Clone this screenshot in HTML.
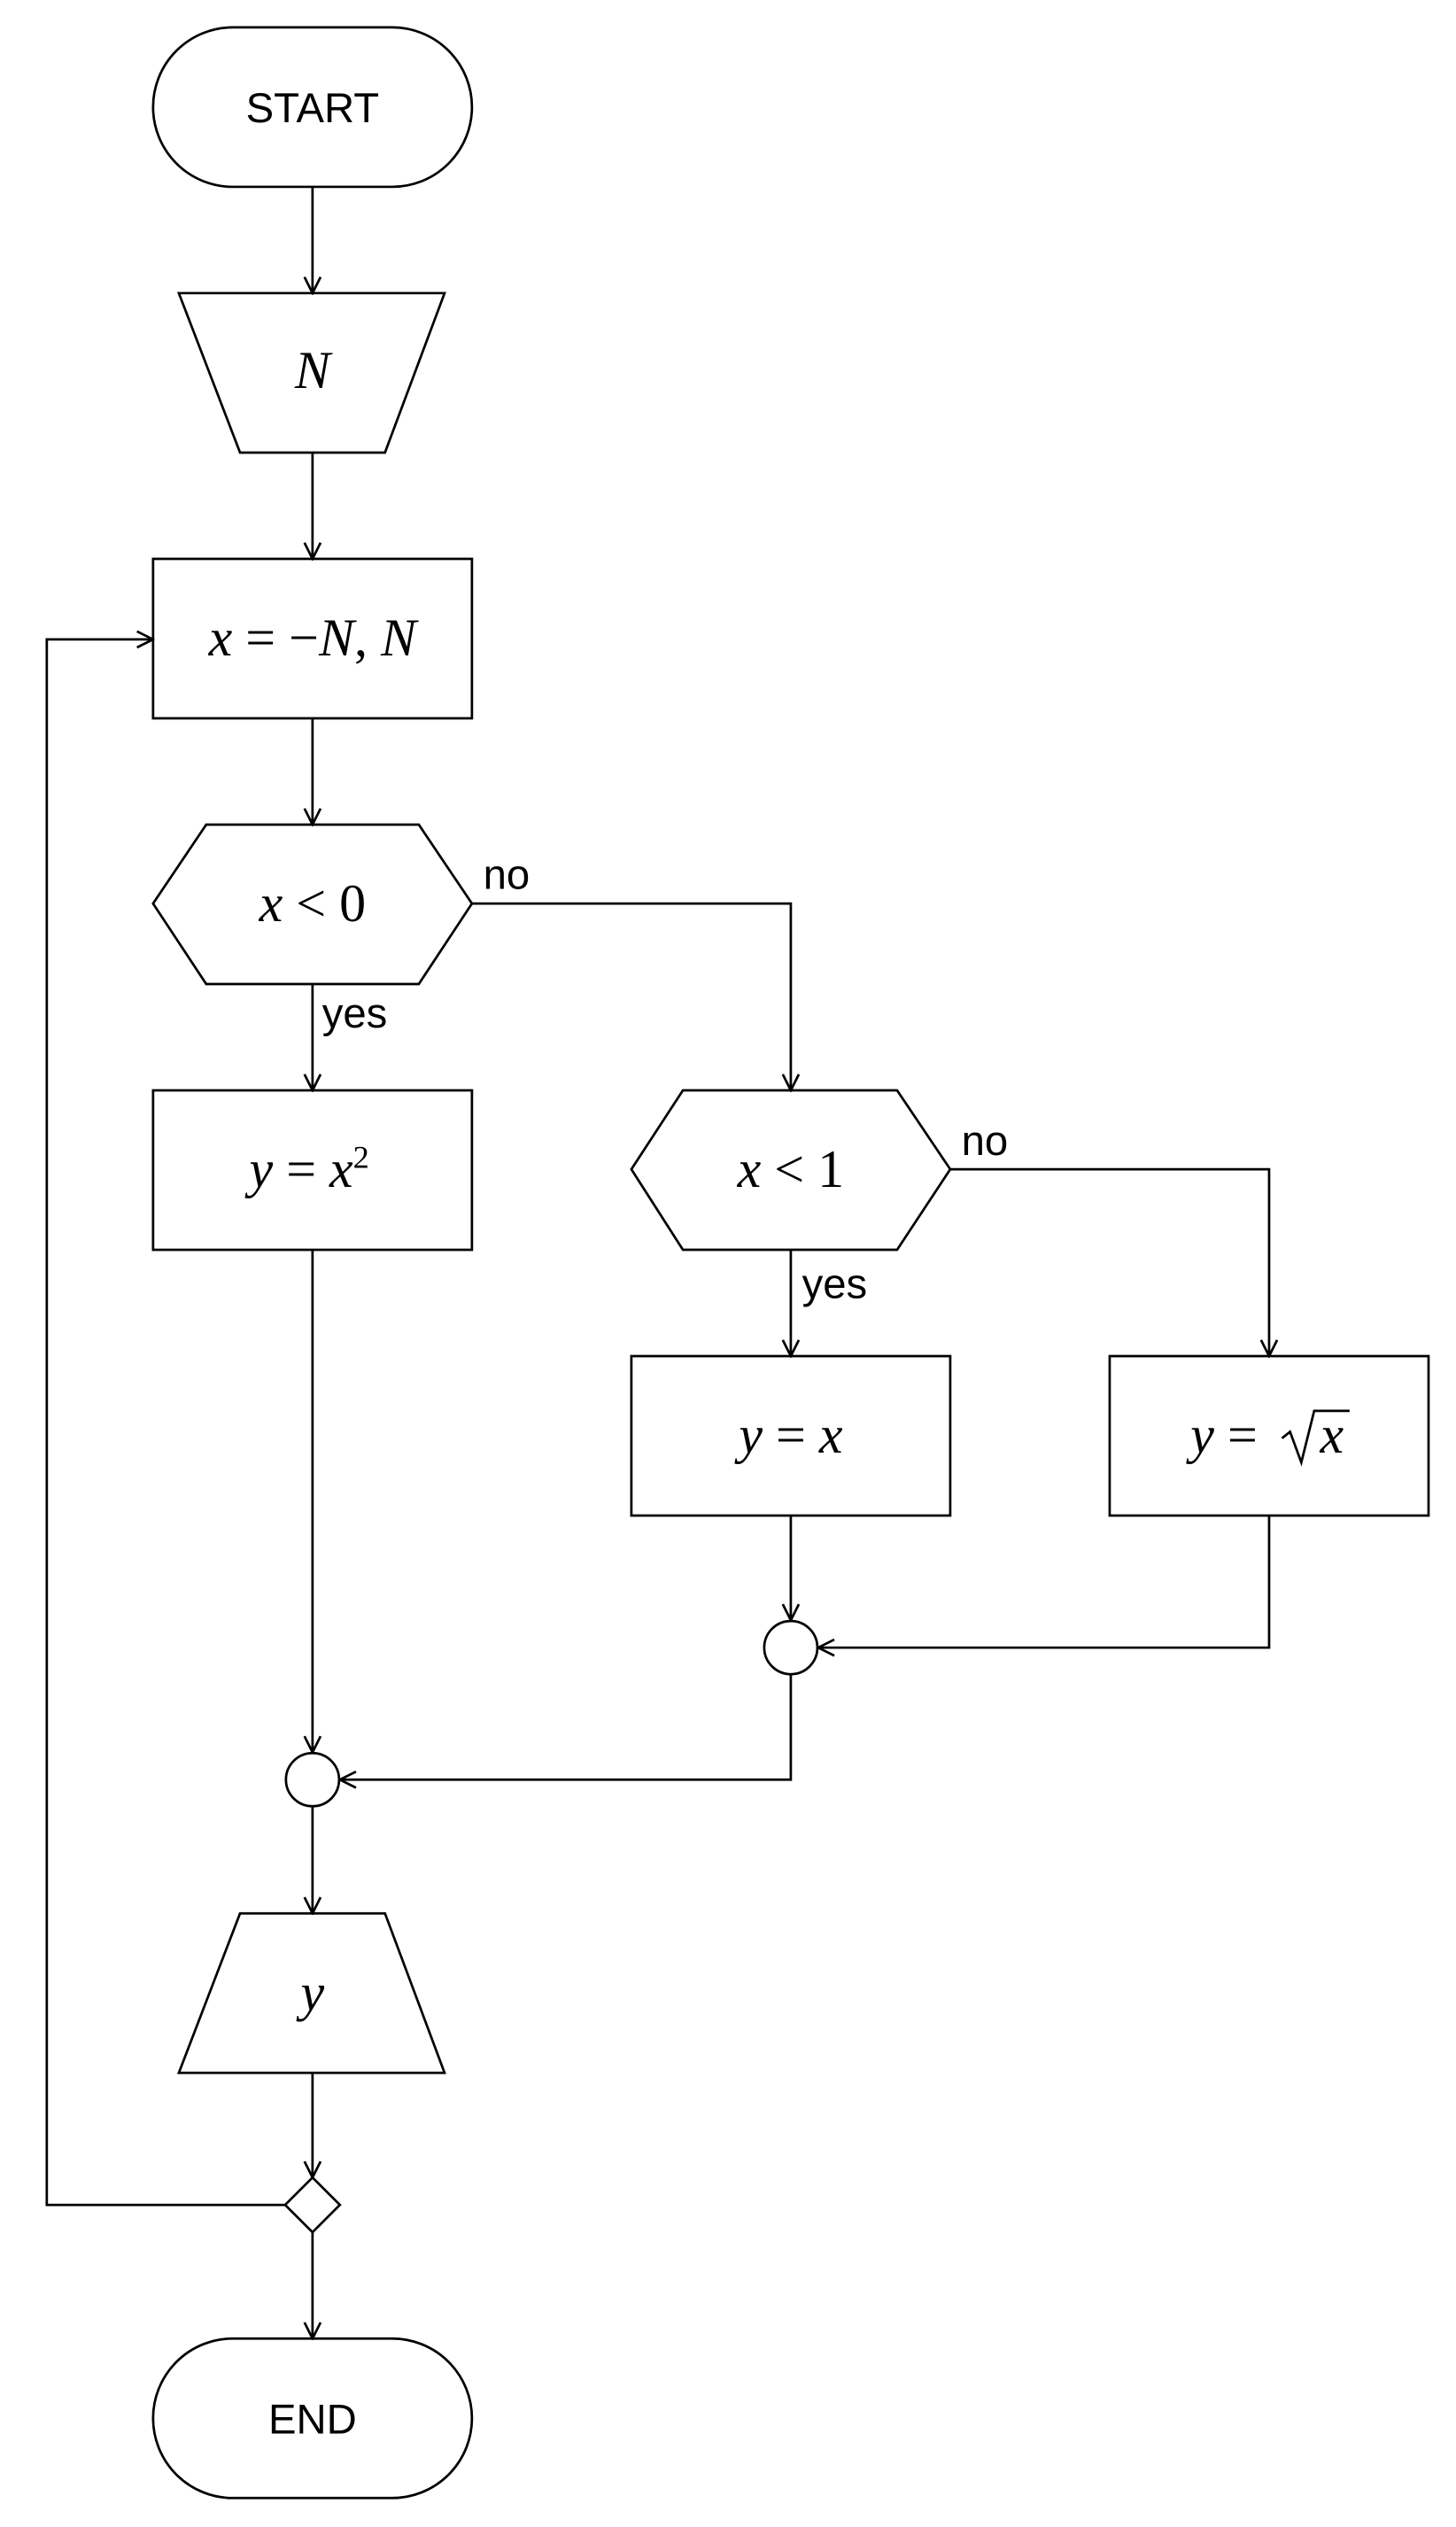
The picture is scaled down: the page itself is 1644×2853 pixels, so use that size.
<!DOCTYPE html>
<html><head><meta charset="utf-8"><style>html,body{margin:0;padding:0;background:#fff}svg{display:block}</style></head><body>
<svg width="1644" height="2853" viewBox="0 0 904 1569" xmlns="http://www.w3.org/2000/svg">
<defs><marker id="a" viewBox="0 0 12 12" refX="11" refY="6" markerWidth="12" markerHeight="12" markerUnits="userSpaceOnUse" orient="auto"><path d="M1,1 L11,6 L1,11" fill="none" stroke="#000" stroke-width="1.5"/></marker></defs>
<g fill="#fff" stroke="#000" stroke-width="1.5">
<rect x="95" y="17" width="198" height="99" rx="49.5"/>
<polygon points="111,182 276,182 239,281 149,281"/>
<rect x="95" y="347" width="198" height="99"/>
<polygon points="128,512 260,512 293,561 260,611 128,611 95,561"/>
<rect x="95" y="677" width="198" height="99"/>
<polygon points="424,677 557,677 590,726 557,776 424,776 392,726"/>
<rect x="392" y="842" width="198" height="99"/>
<rect x="689" y="842" width="198" height="99"/>
<circle cx="491" cy="1023" r="16.5"/>
<circle cx="194" cy="1105" r="16.5"/>
<polygon points="149,1188 239,1188 276,1287 111,1287"/>
<polygon points="194,1352 211,1369 194,1386 177,1369"/>
<rect x="95" y="1452" width="198" height="99" rx="49.5"/>
</g>
<g fill="none" stroke="#000" stroke-width="1.5" marker-end="url(#a)">
<path d="M194,116V182"/><path d="M194,281V347"/><path d="M194,446V512"/>
<path d="M194,611V677"/><path d="M293,561H491V677"/>
<path d="M590,726H788V842"/><path d="M491,776V842"/>
<path d="M491,941V1006"/><path d="M788,941V1023H508"/>
<path d="M194,776V1088"/><path d="M491,1040V1105H211"/>
<path d="M194,1122V1188"/><path d="M194,1287V1352"/><path d="M194,1386V1452"/>
<path d="M177,1369H29V397H95"/>
</g>
<g font-family="Liberation Sans, sans-serif" font-size="26" fill="#000">
<text x="194" y="76" text-anchor="middle">START</text>
<text x="194" y="1511" text-anchor="middle">END</text>
<text x="300" y="552">no</text><text x="200" y="638">yes</text>
<text x="597" y="717">no</text><text x="498" y="806">yes</text>
</g>
<g font-family="Liberation Serif, serif" font-size="33" fill="#000" text-anchor="middle">
<text x="194" y="241" font-style="italic">N</text>
<text x="194" y="407"><tspan font-style="italic">x</tspan> = −<tspan font-style="italic">N</tspan>, <tspan font-style="italic">N</tspan></text>
<text x="194" y="572"><tspan font-style="italic">x</tspan> &lt; 0</text>
<text x="192" y="737"><tspan font-style="italic">y</tspan> = <tspan font-style="italic">x</tspan><tspan font-size="20" dy="-12">2</tspan></text>
<text x="491" y="737"><tspan font-style="italic">x</tspan> &lt; 1</text>
<text x="491" y="902"><tspan font-style="italic">y</tspan> = <tspan font-style="italic">x</tspan></text>
<text x="760" y="902"><tspan font-style="italic">y</tspan> =</text>
<text x="827" y="902" font-style="italic">x</text>
</g>
<text x="194" y="1248" font-family="Liberation Serif, serif" font-size="33" font-style="italic" text-anchor="middle">y</text>
<path d="M796,893 L801,889 L808,908 L816,876 H838" fill="none" stroke="#000" stroke-width="1.5"/>
</svg>
</body></html>
